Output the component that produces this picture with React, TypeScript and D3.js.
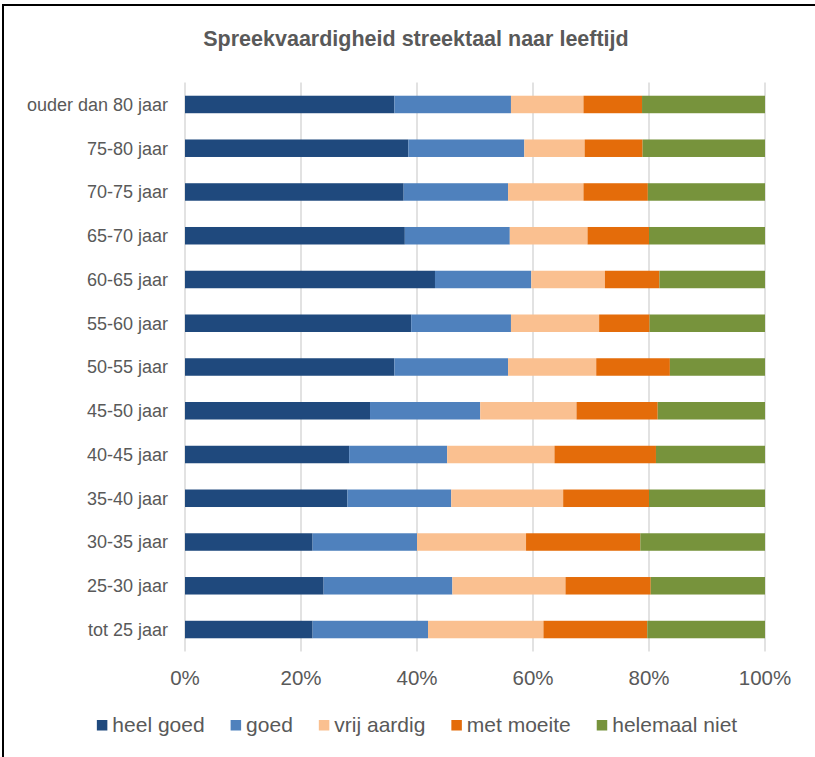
import React from "react";
import * as d3 from "d3";

// Age groups, top to bottom
const categories = [
  "ouder dan 80 jaar",
  "75-80 jaar",
  "70-75 jaar",
  "65-70 jaar",
  "60-65 jaar",
  "55-60 jaar",
  "50-55 jaar",
  "45-50 jaar",
  "40-45 jaar",
  "35-40 jaar",
  "30-35 jaar",
  "25-30 jaar",
  "tot 25 jaar",
];

// Share of respondents (%) per answer, same order as categories
const heelGoed = [36.1, 38.5, 37.7, 37.9, 43.1, 39.0, 36.1, 31.9, 28.3, 28.0, 22.0, 23.9, 22.0];
const goed = [20.1, 20.0, 18.0, 18.1, 16.6, 17.2, 19.6, 19.0, 16.9, 17.9, 18.0, 22.2, 19.9];
const vrijAardig = [12.5, 10.4, 13.0, 13.4, 12.7, 15.2, 15.2, 16.6, 18.5, 19.3, 18.8, 19.5, 19.9];
const metMoeite = [10.1, 10.0, 11.1, 10.6, 9.4, 8.7, 12.7, 14.0, 17.5, 14.8, 19.7, 14.7, 17.9];
const helemaalNiet = [21.2, 21.1, 20.2, 20.0, 18.2, 19.9, 16.4, 18.5, 18.8, 20.0, 21.5, 19.7, 20.3];

const seriesNames = ["heel goed", "goed", "vrij aardig", "met moeite", "helemaal niet"];
const seriesValues = [heelGoed, goed, vrijAardig, metMoeite, helemaalNiet];
const seriesColors = ["#1F497D", "#4F81BD", "#FAC090", "#E46C0A", "#77933C"];

const xTicks = [0, 0.2, 0.4, 0.6, 0.8, 1];

const W = 815;
const H = 757;
const TEXT = "#595959";
const FONT = "'Liberation Sans', Arial, sans-serif";

function textWidth(txt: string, font: string): number {
  const c = document.createElement("canvas").getContext("2d");
  if (!c) return txt.length * 10;
  c.font = font;
  return c.measureText(txt).width;
}

export default function App() {
  const rows = categories.map((cat, i) => {
    const r: Record<string, any> = { cat };
    seriesNames.forEach((s, j) => (r[s] = seriesValues[j][i]));
    return r;
  });

  const stacked = d3
    .stack<Record<string, any>>()
    .keys(seriesNames)
    .offset(d3.stackOffsetExpand)(rows);

  const x = d3.scaleLinear().domain([0, 1]).range([185, 765]);
  const y = d3
    .scaleBand<string>()
    .domain(categories)
    .range([82.6, 651.4])
    .paddingInner(0.6)
    .paddingOuter(0.3);

  const pct = d3.format(".0%");

  // legend layout: centred row of swatch + label
  const legendSize = 21;
  const legendFont = `${legendSize}px ${FONT}`;
  const sw = 10.5;
  const swGap = 5;
  const itemGap = 26;
  const widths = seriesNames.map((s) => sw + swGap + textWidth(s, legendFont));
  const total = d3.sum(widths) + itemGap * (seriesNames.length - 1);
  let lx = 417 - total / 2;
  const legendPos = widths.map((w) => {
    const p = lx;
    lx += w + itemGap;
    return p;
  });

  const [y0, y1] = y.range();

  return (
    <svg
      width={W}
      height={H}
      style={{ position: "absolute", left: 0, top: 0, background: "#fff" }}
      fontFamily={FONT}
    >
      <rect x={0} y={0} width={W} height={H} fill="#fff" />
      <path d={`M3,${H} V5 H${W}`} fill="none" stroke="#000" strokeWidth={2} />

      <text x={416} y={46} textAnchor="middle" fontSize={21.5} fontWeight="bold" fill={TEXT}>
        Spreekvaardigheid streektaal naar leeftijd
      </text>

      {xTicks.map((t) => (
        <line
          key={t}
          x1={x(t)}
          x2={x(t)}
          y1={y0}
          y2={y1}
          stroke="#D9D9D9"
          strokeWidth={1.5}
        />
      ))}

      {stacked.map((layer, li) => (
        <g key={layer.key} fill={seriesColors[li]}>
          {layer.map((d, i) => (
            <rect
              key={i}
              x={x(d[0])}
              y={y(categories[i])}
              width={x(d[1]) - x(d[0])}
              height={y.bandwidth()}
            />
          ))}
        </g>
      ))}

      {categories.map((c) => (
        <text
          key={c}
          x={168}
          y={(y(c) as number) + y.bandwidth() / 2}
          dy="0.36em"
          textAnchor="end"
          fontSize={18}
          fill={TEXT}
        >
          {c}
        </text>
      ))}

      {xTicks.map((t) => (
        <text key={t} x={x(t)} y={685} textAnchor="middle" fontSize={20.5} fill={TEXT}>
          {pct(t)}
        </text>
      ))}

      {seriesNames.map((s, i) => (
        <g key={s} transform={`translate(${legendPos[i]},0)`}>
          <rect x={0} y={720} width={sw} height={sw} fill={seriesColors[i]} />
          <text x={sw + swGap} y={732} fontSize={legendSize} fill={TEXT}>
            {s}
          </text>
        </g>
      ))}
    </svg>
  );
}
